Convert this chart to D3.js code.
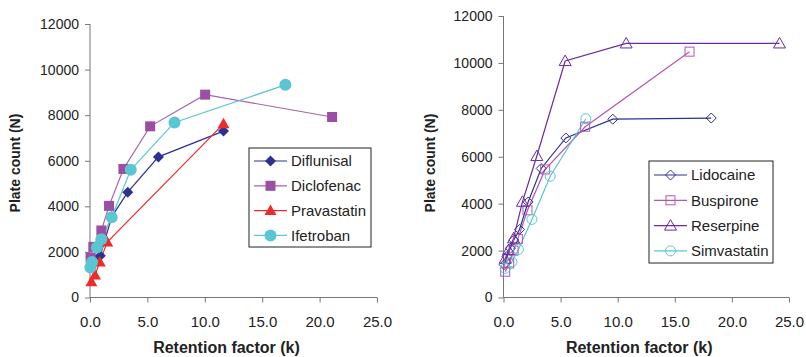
<!DOCTYPE html>
<html>
<head>
<meta charset="utf-8">
<script src="https://cdn.jsdelivr.net/npm/d3@7"></script>
<style>
body{margin:0;background:#fff}
svg{display:block}
.tick text{font-family:"Liberation Sans",Arial,sans-serif;font-size:14px;fill:#222}
.xt .tick text{font-family:"Liberation Sans Narrow","Liberation Sans",Arial,sans-serif;font-size:15px}
.axis path,.axis line{stroke:#777}
</style>
</head>
<body>
<svg id="chart" width="806" height="357"></svg>
<script>
// ---- data: [k, N] ----
var xTicks=[0,5,10,15,20,25]
var yTicks=[0,2000,4000,6000,8000,10000,12000]

var diflunisal=[[0.1,1350],[0.45,1650],[0.9,1830],[1.89,3540],[3.29,4620],[5.96,6170],[11.63,7300]]
var diclofenac=[[0.05,1750],[0.29,2220],[0.99,2940],[1.66,4020],[2.91,5640],[5.24,7510],[10.03,8900],[21.09,7920]]
var pravastatin=[[0.12,690],[0.44,990],[0.85,1560],[1.5,2430],[11.63,7620]]
var ifetroban=[[0.03,1320],[0.18,1560],[0.6,2190],[0.99,2560],[1.89,3520],[3.55,5600],[7.36,7680],[17.02,9330]]

var lidocaine=[[0.05,1400],[0.3,1750],[0.6,2100],[0.9,2450],[1.4,2900],[2.16,4070],[3.3,5500],[5.46,6800],[9.57,7600],[18.19,7650]]
var buspirone=[[0.15,1100],[0.5,1450],[0.88,2000],[1.26,2500],[2.1,3720],[3.65,5460],[7.15,7280],[16.29,10480]]
var reserpine=[[0.15,1650],[0.44,2020],[0.88,2520],[1.66,4080],[2.92,6030],[5.4,10080],[10.74,10830],[24.17,10830]]
var simvastatin=[[0.15,1240],[0.74,1520],[1.31,2050],[2.49,3330],[4.09,5170],[7.21,7620]]

var leftSeries=[
  {name:"Diflunisal",data:diflunisal,color:"#2e3192",line:"#2e3192",shape:"diamond"},
  {name:"Diclofenac",data:diclofenac,color:"#9b4ea3",line:"#a862ad",shape:"square"},
  {name:"Pravastatin",data:pravastatin,color:"#ee2b2b",line:"#ee2b2b",shape:"triangle"},
  {name:"Ifetroban",data:ifetroban,color:"#5ac6d3",line:"#5ac6d3",shape:"circle"}
]
var rightSeries=[
  {name:"Lidocaine",data:lidocaine,color:"#2e3192",line:"#2e3192",shape:"diamond"},
  {name:"Buspirone",data:buspirone,color:"#b455b5",line:"#b455b5",shape:"square"},
  {name:"Reserpine",data:reserpine,color:"#6b2c9c",line:"#6b2c9c",shape:"triangle"},
  {name:"Simvastatin",data:simvastatin,color:"#5ac6d3",line:"#5ac6d3",shape:"circle"}
]

var svg=d3.select("#chart")

function drawMarker(g,shape,x,y,color,filled){
  var fill=filled?color:"none"
  var sw=filled?0:1
  if(shape=="diamond"){
    var s=filled?5.5:5
    g.append("polygon").attr("points",[[x,y-s],[x+s,y],[x,y+s],[x-s,y]].join(" "))
      .attr("fill",fill).attr("stroke",color).attr("stroke-width",sw)
  }else if(shape=="square"){
    var s=filled?5:4.5
    g.append("rect").attr("x",x-s).attr("y",y-s).attr("width",2*s).attr("height",2*s)
      .attr("fill",fill).attr("stroke",color).attr("stroke-width",sw)
  }else if(shape=="triangle"){
    var s=filled?6:6
    g.append("polygon").attr("points",[[x,y-s],[x+s,y+s*0.75],[x-s,y+s*0.75]].join(" "))
      .attr("fill",fill).attr("stroke",color).attr("stroke-width",sw)
  }else{
    g.append("circle").attr("cx",x).attr("cy",y).attr("r",filled?6:5)
      .attr("fill",fill).attr("stroke",color).attr("stroke-width",sw)
  }
}

function buildPanel(series,x0,x1,y0,y1,filled,yLabelX,legend){
  var xScale=d3.scaleLinear().domain([0,25]).range([x0,x1])
  var yScale=d3.scaleLinear().domain([0,12000]).range([y0,y1])
  var g=svg.append("g")

  g.append("g").attr("class","axis xt")
    .attr("transform","translate(0,"+y0+")")
    .call(d3.axisBottom(xScale).tickValues(xTicks).tickSize(5).tickPadding(14).tickFormat(d3.format(".1f")))
  g.append("g").attr("class","axis")
    .attr("transform","translate("+x0+",0)")
    .call(d3.axisLeft(yScale).tickValues(yTicks).tickSize(5).tickPadding(6).tickFormat(d3.format("d")))
  g.selectAll(".axis .domain").attr("d",function(){
    return d3.select(this.parentNode).classed("xt")?"M"+x0+",0H"+x1:"M0,"+y0+"V"+y1
  })

  g.append("text").attr("x",(x0+x1)/2-7).attr("y",353)
    .attr("text-anchor","middle").attr("font-weight","bold")
    .attr("font-family","'Liberation Sans Narrow','Liberation Sans',Arial,sans-serif")
    .attr("font-size","16px").attr("fill","#222").text("Retention factor (k)")
  g.append("text").attr("transform","translate("+yLabelX+",163)rotate(-90)")
    .attr("text-anchor","middle").attr("font-weight","bold")
    .attr("font-family","'Liberation Sans',Arial,sans-serif")
    .attr("font-size","14px").attr("fill","#222").text("Plate count (N)")

  var line=d3.line().x(function(d){return xScale(d[0])}).y(function(d){return yScale(d[1])})
  series.forEach(function(s){
    g.append("path").datum(s.data).attr("d",line)
      .attr("fill","none").attr("stroke",s.line).attr("stroke-width",1.2)
  })
  series.forEach(function(s){
    var mg=g.append("g")
    s.data.forEach(function(d){drawMarker(mg,s.shape,xScale(d[0]),yScale(d[1]),s.color,filled)})
  })

  // legend
  var lg=g.append("g")
  lg.append("rect").attr("x",legend.x).attr("y",legend.y).attr("width",legend.w).attr("height",legend.h)
    .attr("fill","#fff").attr("stroke","#222").attr("stroke-width",1)
  series.forEach(function(s,i){
    var yy=legend.y+legend.first+i*legend.step
    lg.append("line").attr("x1",legend.x+5).attr("x2",legend.x+38).attr("y1",yy).attr("y2",yy)
      .attr("stroke",s.line).attr("stroke-width",1.2)
    drawMarker(lg,s.shape,legend.x+21.5,yy,s.color,filled)
    lg.append("text").attr("x",legend.x+42).attr("y",yy).attr("dy","0.36em")
      .attr("font-family","'Liberation Sans',Arial,sans-serif").attr("font-size","15px")
      .attr("fill","#222").text(s.name)
  })
}

buildPanel(leftSeries,90,377,297.5,24,true,20,{x:249,y:148,w:122,h:99,first:13,step:24.8})
buildPanel(rightSeries,503.5,789,297.5,16,false,435,{x:649,y:161,w:124,h:102,first:14,step:25.3})
</script>
</body>
</html>
